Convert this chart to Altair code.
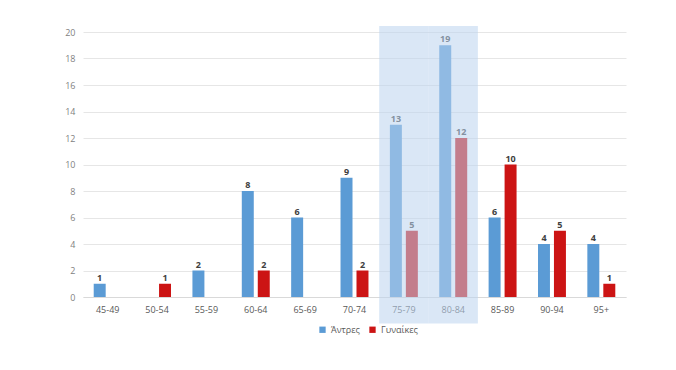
import altair as alt
import pandas as pd

categories = ["45-49", "50-54", "55-59", "60-64", "65-69", "70-74",
              "75-79", "80-84", "85-89", "90-94", "95+"]
men = [1, 0, 2, 8, 6, 9, 13, 19, 6, 4, 4]
women = [0, 1, 0, 2, 0, 2, 5, 12, 10, 5, 1]
series = ["Άντρες", "Γυναίκες"]
colors = ["#5b9bd5", "#cc1414"]
y_ticks = [0, 2, 4, 6, 8, 10, 12, 14, 16, 18, 20]
highlight_cats = ["75-79", "80-84"]
highlight_top = 20.45
highlight_bottom = -2.0

rows = []
for c, m, w in zip(categories, men, women):
    rows.append({"cat": c, "series": series[0], "value": m})
    rows.append({"cat": c, "series": series[1], "value": w})
df = pd.DataFrame(rows)
hl = pd.DataFrame({"cat": highlight_cats,
                   "top": [highlight_top] * len(highlight_cats),
                   "bottom": [highlight_bottom] * len(highlight_cats)})

FONT = "Open Sans"

x = alt.X("cat:N", sort=categories, title=None,
          scale=alt.Scale(paddingInner=0, paddingOuter=0),
          axis=alt.Axis(labelAngle=0, labelColor="#595959", labelFontSize=9,
                        labelFont=FONT, ticks=False, domainColor="#d9d9d9",
                        labelPadding=8, grid=False))
y = alt.Y("value:Q", title=None,
          scale=alt.Scale(domain=[0, 20], nice=False),
          axis=alt.Axis(values=y_ticks, tickCount=11, labelOverlap=False,
                        labelColor="#7f7f7f",
                        labelFontSize=9, labelFont=FONT, ticks=False,
                        domain=False, gridColor="#e6e6e6", labelPadding=8))
xoff = alt.XOffset("series:N", sort=series,
                   scale=alt.Scale(paddingInner=0.25, paddingOuter=0.67))

bars = alt.Chart(df).mark_bar().encode(
    x=x, y=y, xOffset=xoff,
    color=alt.Color("series:N", sort=series,
                    scale=alt.Scale(domain=series, range=colors),
                    legend=alt.Legend(title=None, orient="none", legendX=235,
                                      legendY=293, direction="horizontal",
                                      symbolType="square", symbolSize=40,
                                      labelFont=FONT, labelFontSize=9,
                                      labelColor="#595959", columnPadding=8,
                                      symbolStrokeWidth=0))
)

labels = alt.Chart(df).transform_filter("datum.value > 0").mark_text(
    dy=-6, fontSize=9, fontWeight="bold", font=FONT, color="#404040"
).encode(x=x, y=y, xOffset=xoff, text="value:Q")

overlay = alt.Chart(hl).mark_rect(color="#bcd3ee", opacity=0.55, clip=False).encode(
    x=alt.X("cat:N", sort=categories),
    y=alt.Y("top:Q"),
    y2="bottom:Q",
)

chart = alt.layer(bars, labels, overlay).properties(
    width=543, height=265, background="white",
    autosize=alt.AutoSizeParams(type="none"),
    padding={"left": 75, "top": 24, "right": 42, "bottom": 65},
).configure_view(strokeWidth=0)

chart.save("out.html", embed_options={"renderer": "svg", "actions": False})
